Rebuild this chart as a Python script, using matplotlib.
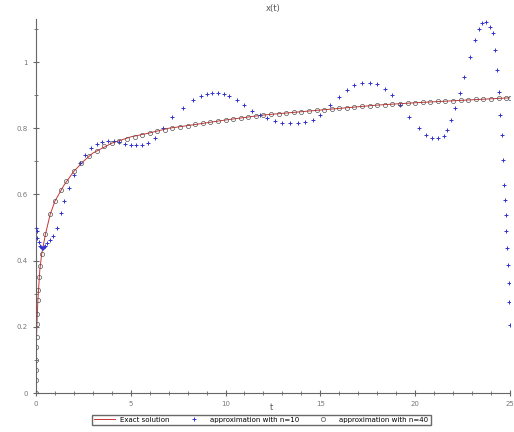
import numpy as np
import matplotlib.pyplot as plt
from matplotlib.ticker import MultipleLocator

# exact solution
t_exact = [0, 0.01, 0.03, 0.05, 0.1, 0.2, 0.3, 0.5, 0.75, 1.0, 1.5, 2.0, 2.5, 3.0, 4.0,
           5.0, 6.0, 7.0, 8.0, 10.0, 12.0, 14.0, 16.0, 18.0, 20.0, 22.0, 25.0]
y_exact = [0, 0.10, 0.17, 0.21, 0.28, 0.37, 0.42, 0.48, 0.54, 0.58, 0.63, 0.67, 0.70, 0.725, 0.755,
           0.774, 0.786, 0.80, 0.808, 0.825, 0.84, 0.85, 0.86, 0.87, 0.877, 0.883, 0.892]

# approximation 1 (blue crosses)
t_blue = [0.0, 0.03, 0.08, 0.15, 0.22, 0.28, 0.33, 0.38, 0.43, 0.5, 0.6, 0.75, 0.9, 1.1, 1.3,
          1.5, 1.75, 2.0, 2.3, 2.6, 2.9, 3.2, 3.5, 3.8, 4.1, 4.4, 4.7, 5.0, 5.3, 5.6,
          5.9, 6.3, 6.7, 7.2, 7.75, 8.3, 8.7, 9.0, 9.3, 9.6, 9.9, 10.2, 10.6, 11.0, 11.4,
          11.8, 12.2, 12.6, 13.0, 13.4, 13.8, 14.2, 14.6, 15.0, 15.5, 16.0, 16.4, 16.8, 17.2,
          17.6, 18.0, 18.4, 18.8, 19.2, 19.7, 20.2, 20.6, 20.9, 21.2, 21.5, 21.7, 21.9, 22.1,
          22.35, 22.6, 22.9, 23.15, 23.35, 23.55, 23.75, 23.95, 24.1, 24.2, 24.3, 24.4, 24.5,
          24.58, 24.65, 24.7, 24.75, 24.78, 24.82, 24.86, 24.9, 24.93, 24.96, 25.0]
y_blue = [0.50, 0.49, 0.47, 0.455, 0.445, 0.44, 0.438, 0.438, 0.44, 0.445, 0.452, 0.462, 0.475, 0.50, 0.545,
          0.58, 0.62, 0.66, 0.695, 0.72, 0.74, 0.752, 0.758, 0.762, 0.762, 0.758, 0.753, 0.75, 0.748, 0.75,
          0.755, 0.77, 0.80, 0.835, 0.86, 0.885, 0.898, 0.904, 0.907, 0.907, 0.904, 0.898, 0.885, 0.87, 0.852,
          0.84, 0.83, 0.822, 0.817, 0.815, 0.815, 0.818, 0.825, 0.84, 0.87, 0.895, 0.915, 0.93, 0.937,
          0.938, 0.934, 0.92, 0.90, 0.87, 0.834, 0.80, 0.78, 0.772, 0.77, 0.778, 0.795, 0.825, 0.86,
          0.905, 0.955, 1.015, 1.066, 1.10, 1.118, 1.12, 1.105, 1.088, 1.036, 0.976, 0.91, 0.84,
          0.78, 0.704, 0.628, 0.583, 0.538, 0.49, 0.438, 0.387, 0.332, 0.275, 0.205]

# approximation 2 (circles)
t_circ = [0, 0.002, 0.005, 0.01, 0.02, 0.03, 0.05, 0.07, 0.1, 0.13, 0.17, 0.22, 0.3, 0.5, 0.75,
          1.0, 1.3, 1.6, 2.0, 2.4, 2.8, 3.2, 3.6, 4.0, 4.4, 4.8, 5.2, 5.6, 6.0, 6.4,
          6.8, 7.2, 7.6, 8.0, 8.4, 8.8, 9.2, 9.6, 10.0, 10.4, 10.8, 11.2, 11.6, 12.0, 12.4,
          12.8, 13.2, 13.6, 14.0, 14.4, 14.8, 15.2, 15.6, 16.0, 16.4, 16.8, 17.2, 17.6, 18.0,
          18.4, 18.8, 19.2, 19.6, 20.0, 20.4, 20.8, 21.2, 21.6, 22.0, 22.4, 22.8, 23.2, 23.6,
          24.0, 24.4, 24.8, 25.0]
y_circ = [0, 0.04, 0.07, 0.10, 0.14, 0.17, 0.21, 0.24, 0.28, 0.31, 0.35, 0.385, 0.42, 0.48, 0.54,
          0.58, 0.615, 0.64, 0.67, 0.695, 0.715, 0.73, 0.745, 0.755, 0.762, 0.768, 0.774, 0.780, 0.786, 0.791,
          0.796, 0.800, 0.804, 0.808, 0.812, 0.816, 0.819, 0.822, 0.825, 0.828, 0.831, 0.834, 0.837, 0.840, 0.842,
          0.844, 0.846, 0.848, 0.850, 0.852, 0.854, 0.856, 0.858, 0.860, 0.862, 0.864, 0.866, 0.868, 0.870,
          0.871, 0.873, 0.874, 0.876, 0.877, 0.878, 0.880, 0.881, 0.882, 0.883, 0.884, 0.886, 0.887, 0.888,
          0.889, 0.890, 0.891, 0.892]

labels = ["Exact solution", "approximation with n=10", "approximation with n=40"]

fig = plt.figure(figsize=(5.14, 4.32), dpi=100)
ax = fig.add_axes([0.070, 0.090, 0.922, 0.866])

ax.plot(t_exact, y_exact, color="#cc3333", lw=0.7, label=labels[0], zorder=2)
ax.plot(t_blue, y_blue, ls="none", marker="+", ms=3, mew=0.7, color="#3333cc", label=labels[1], zorder=3)
ax.plot(t_circ, y_circ, ls="none", marker="o", ms=3, mew=0.5, mfc="none", mec="#555555",
        label=labels[2], zorder=4)

ax.set_xlim(0, 25)
ax.set_ylim(0, 1.13)
for s in ["top", "right"]:
    ax.spines[s].set_visible(False)
for s in ["left", "bottom"]:
    ax.spines[s].set_color("#666666")
    ax.spines[s].set_linewidth(0.8)

ax.xaxis.set_major_locator(MultipleLocator(5))
ax.xaxis.set_minor_locator(MultipleLocator(1))
ax.yaxis.set_major_locator(MultipleLocator(0.2))
ax.yaxis.set_minor_locator(MultipleLocator(0.1))
ax.set_yticks([0, 0.2, 0.4, 0.6, 0.8, 1.0])
ax.set_yticklabels(["0", "0.2", "0.4", "0.6", "0.8", "1"])
ax.tick_params(which="both", direction="inout", colors="#666666", labelsize=5, labelcolor="#777777")
ax.tick_params(which="major", length=5)
ax.tick_params(which="minor", length=3)

ax.set_title("x(t)", fontsize=6, color="#555555", pad=6)
fig.text(0.529, 0.052, "t", fontsize=6, color="#555555", ha="center")

ax.legend(loc="center", bbox_to_anchor=(0.508, 0.028), bbox_transform=fig.transFigure,
          ncol=3, fontsize=5, frameon=True, fancybox=False, edgecolor="#444444",
          handlelength=3, columnspacing=2, borderpad=0.3, handletextpad=0.8)

fig.savefig("out.png", dpi=100)
